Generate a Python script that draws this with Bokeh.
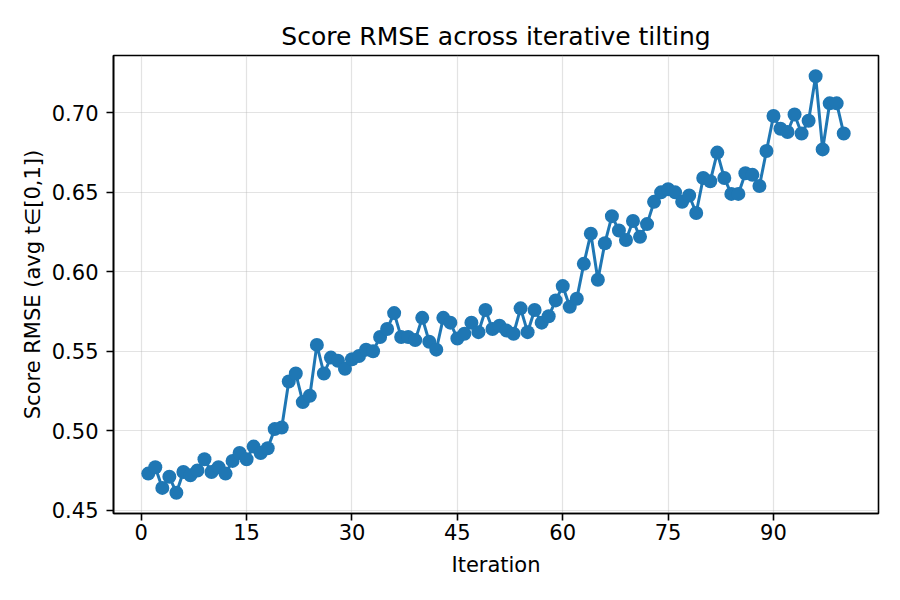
from bokeh.plotting import figure
from bokeh.models import ColumnDataSource, FixedTicker, Range1d, NumeralTickFormatter
from bokeh.embed import file_html
from bokeh.resources import INLINE

iterations = list(range(1, 101))
rmse = [
    0.473, 0.477, 0.464, 0.471, 0.461, 0.474, 0.472, 0.475, 0.482, 0.474,
    0.477, 0.473, 0.481, 0.486, 0.482, 0.490, 0.486, 0.489, 0.501, 0.502,
    0.531, 0.536, 0.518, 0.522, 0.554, 0.536, 0.546, 0.544, 0.539, 0.545,
    0.547, 0.551, 0.550, 0.559, 0.564, 0.574, 0.559, 0.559, 0.557, 0.571,
    0.556, 0.551, 0.571, 0.568, 0.558, 0.561, 0.568, 0.562, 0.576, 0.564,
    0.566, 0.563, 0.561, 0.577, 0.562, 0.576, 0.568, 0.572, 0.582, 0.591,
    0.578, 0.583, 0.605, 0.624, 0.595, 0.618, 0.635, 0.626, 0.620, 0.632,
    0.622, 0.630, 0.644, 0.650, 0.652, 0.650, 0.644, 0.648, 0.637, 0.659,
    0.657, 0.675, 0.659, 0.649, 0.649, 0.662, 0.661, 0.654, 0.676, 0.698,
    0.690, 0.688, 0.699, 0.687, 0.695, 0.723, 0.677, 0.706, 0.706, 0.687,
]
x_ticks = [0, 15, 30, 45, 60, 75, 90]
y_ticks = [0.45, 0.50, 0.55, 0.60, 0.65, 0.70]

title_text = "Score RMSE across iterative tilting"
x_label = "Iteration"
y_label = "Score RMSE (avg t\u2208[0,1])"

source = ColumnDataSource(data=dict(x=iterations, y=rmse))

xpad = (max(iterations) - min(iterations)) * 0.05
ypad = (max(rmse) - min(rmse)) * 0.05

p = figure(
    width=884, height=584,
    frame_width=765, frame_height=458,
    output_backend="svg", toolbar_location=None,
    x_range=Range1d(min(iterations) - xpad, max(iterations) + xpad),
    y_range=Range1d(min(rmse) - ypad, max(rmse) + ypad),
    min_border_left=113, min_border_right=6,
    min_border_top=55, min_border_bottom=71,
    background_fill_color="white", border_fill_color="white",
)

p.title.text = title_text
p.title.align = "center"
p.title.text_font = "DejaVu Sans"
p.title.text_font_size = "25px"
p.title.text_font_style = "normal"
p.title.text_color = "#000000"
p.title.offset = 0
p.title.standoff = 9

p.line("x", "y", source=source, line_color="#1f77b4", line_width=3)
p.scatter("x", "y", source=source, size=14, fill_color="#1f77b4",
          line_color="#1f77b4", line_width=0)

for ax in (p.xaxis[0], p.yaxis[0]):
    ax.axis_line_color = "black"
    ax.axis_line_width = 1.6
    ax.major_tick_line_color = "black"
    ax.major_tick_line_width = 1.6
    ax.major_tick_out = 7
    ax.major_tick_in = 0
    ax.minor_tick_line_color = None
    ax.major_label_text_font = "DejaVu Sans"
    ax.major_label_text_font_size = "21px"
    ax.major_label_text_color = "black"
    ax.axis_label_text_font = "DejaVu Sans"
    ax.axis_label_text_font_size = "21px"
    ax.axis_label_text_font_style = "normal"
    ax.axis_label_text_color = "black"

p.xaxis.axis_label = x_label
p.yaxis.axis_label = y_label
p.xaxis.ticker = FixedTicker(ticks=x_ticks)
p.yaxis.ticker = FixedTicker(ticks=y_ticks)
p.yaxis.formatter = NumeralTickFormatter(format="0.00")
p.xaxis.major_label_standoff = 3
p.yaxis.major_label_standoff = 8
p.xaxis.axis_label_standoff = 10
p.yaxis.axis_label_standoff = 4

p.grid.grid_line_color = "#b0b0b0"
p.grid.grid_line_alpha = 0.35
p.grid.grid_line_width = 1.2
p.xgrid.ticker = FixedTicker(ticks=x_ticks)
p.ygrid.ticker = FixedTicker(ticks=y_ticks)

p.outline_line_color = "black"
p.outline_line_width = 1.6
p.outline_line_alpha = 1

open("out.html", "w").write(file_html(p, INLINE))
